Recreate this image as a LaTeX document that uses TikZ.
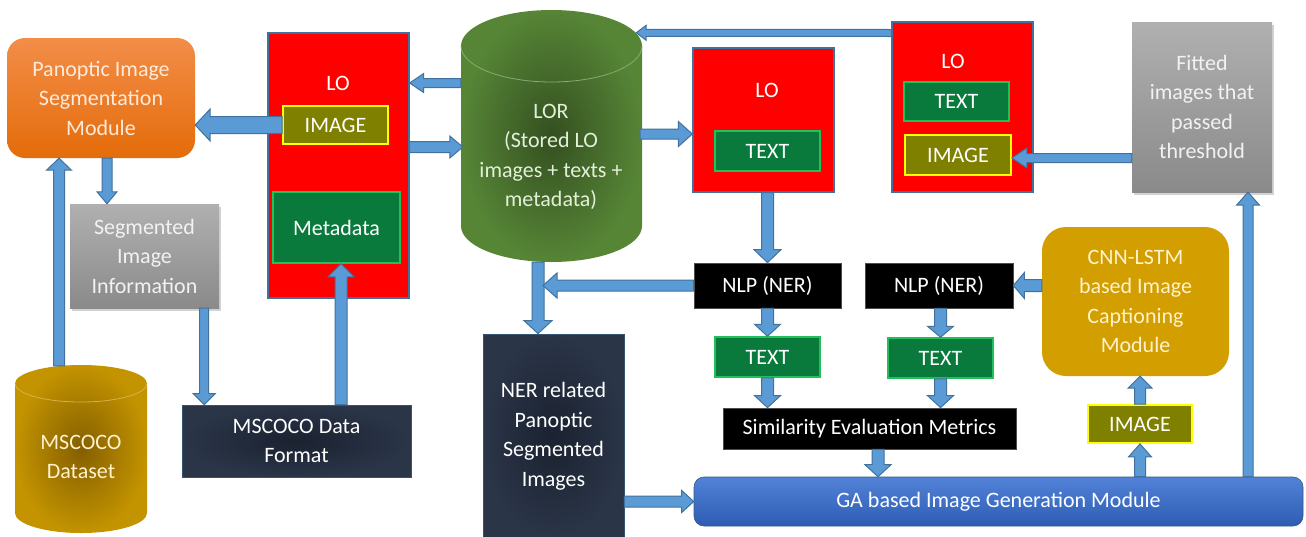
\documentclass[tikz,border=0pt]{standalone}
\usepackage{fontspec}
\setmainfont{Carlito}
\usetikzlibrary{calc,shadows}
\definecolor{arrowfill}{HTML}{5B9BD5}
\definecolor{arrowedge}{HTML}{41719C}
\definecolor{lored}{HTML}{FF0000}
\definecolor{edgeblue}{HTML}{41719C}
\definecolor{olivefill}{HTML}{808000}
\definecolor{yellowedge}{HTML}{FFFF00}
\definecolor{greenfill}{HTML}{0A7A3C}
\definecolor{greenedge}{HTML}{22C05A}
\definecolor{navyin}{HTML}{1B2230}
\definecolor{navyout}{HTML}{2A3548}
\definecolor{pantop}{HTML}{F38D48}
\definecolor{panbot}{HTML}{E46C0A}
\definecolor{graytop}{HTML}{B0B0B0}
\definecolor{graybot}{HTML}{8A8A8A}
\definecolor{cnnfill}{HTML}{D29E00}
\definecolor{gatop}{HTML}{5283D8}
\definecolor{gabot}{HTML}{2E5CB4}
\definecolor{lorin}{HTML}{344F20}
\definecolor{lorout}{HTML}{568536}
\definecolor{dsin}{HTML}{845F00}
\definecolor{dsout}{HTML}{C39300}
\definecolor{creamtext}{HTML}{FDEADA}
\definecolor{lighttext}{HTML}{F2F2F2}
\definecolor{yellowtext}{HTML}{FFF2CC}
\definecolor{greentext}{HTML}{E2F0D9}
\tikzset{
  base/.style={inner sep=0pt, align=center, font=\fontsize{22}{29.5}\selectfont, text=white},
  label/.style={base},
  lobox/.style={base, fill=lored, draw=edgeblue, line width=1.3pt},
  imgbox/.style={base, fill=olivefill, draw=yellowedge, line width=1.8pt},
  txtbox/.style={base, fill=greenfill, draw=greenedge, line width=1.5pt},
  nlpbox/.style={base, fill=black, draw=black!70, line width=0.8pt},
  navybox/.style={base, inner color=navyin, outer color=navyout, draw=edgeblue!50!navyout, line width=0.8pt},
  graybox/.style={base, text=lighttext, top color=graytop, bottom color=graybot,
     drop shadow={opacity=0.35, shadow xshift=2pt, shadow yshift=-3pt}},
  panbox/.style={base, text=creamtext, top color=pantop, bottom color=panbot, rounded corners=18pt},
  cnnbox/.style={base, text=yellowtext, fill=cnnfill, rounded corners=24pt},
  gabox/.style={base, top color=gatop, bottom color=gabot, draw=edgeblue!80!black, line width=0.6pt, rounded corners=10pt},
  cylnode/.style={inner sep=0pt},
  blockarrow/.style={fill=arrowfill, draw=arrowedge, line width=1pt, line join=miter},
  seam/.style={line width=0.8pt},
}
% block arrow: #1 start, #2 tip, #3 half shaft, #4 half head, #5 head length
\newcommand\barrow[5]{%
  \coordinate (bA) at #1; \coordinate (bB) at #2;
  \coordinate (bH) at ($(bB)!#5!(bA)$);
  \draw[blockarrow] ($(bA)!#3!90:(bB)$) -- ($(bH)!#3!-90:(bA)$) -- ($(bH)!#4!-90:(bA)$)
     -- (bB) -- ($(bH)!#4!90:(bA)$) -- ($(bH)!#3!90:(bA)$) -- ($(bA)!#3!-90:(bB)$) -- cycle;}
\begin{document}
\begin{tikzpicture}[x=1pt,y=-1pt]
\useasboundingbox (0,0) rectangle (1306,536);
\fill[white] (0,0) rectangle (1306,536);

% ---------- cylinders ----------
\shade[inner color=lorin, outer color=lorout] (461,46) -- (461,226)
  arc[start angle=180, end angle=0, x radius=90.5, y radius=36] -- (642,46)
  arc[start angle=0, end angle=-180, x radius=90.5, y radius=36] -- cycle;
\draw[seam, draw=lorout!70!white] (461,46) arc[start angle=180, end angle=0, x radius=90.5, y radius=36];
\node[cylnode, minimum width=181pt, minimum height=252pt] (lor) at (551.5,136) {};
\node[base, text=greentext] (lort) at (551,157) {LOR\\(Stored LO\\images + texts +\\metadata)};

\shade[inner color=dsin, outer color=dsout] (15,383.5) -- (15,513)
  arc[start angle=180, end angle=0, x radius=66, y radius=20] -- (147,383.5)
  arc[start angle=0, end angle=-180, x radius=66, y radius=18.5] -- cycle;
\draw[seam, draw=dsout!70!white] (15,383.5) arc[start angle=180, end angle=0, x radius=66, y radius=18.5];
\node[cylnode, minimum width=132pt, minimum height=168pt] (ds) at (81,449) {};
\node[base, text=yellowtext] (dst) at (81,457) {MSCOCO\\Dataset};

% ---------- boxes ----------
\node[panbox, minimum width=188pt, minimum height=120pt] (pan) at (101,98) {Panoptic Image\\Segmentation\\Module};
\node[graybox, minimum width=149pt, minimum height=104pt] (seg) at (144.5,256) {Segmented\\Image\\Information};

\node[lobox, minimum width=141pt, minimum height=265pt] (lo1) at (338.5,165.5) {};
\node[label] (lo1t) at (338,83) {LO};
\node[imgbox, minimum width=105pt, minimum height=38pt] (img1) at (335.5,125) {IMAGE};
\node[txtbox, minimum width=127pt, minimum height=71pt] (meta) at (336.5,227.5) {Metadata};

\node[lobox, minimum width=141pt, minimum height=144pt] (lo2) at (763.5,120) {};
\node[label] (lo2t) at (767,90) {LO};
\node[txtbox, minimum width=105pt, minimum height=40pt] (txtlo2) at (767.5,151) {TEXT};

\node[lobox, minimum width=141pt, minimum height=170pt] (lo3) at (962.5,107) {};
\node[label] (lo3t) at (953,61) {LO};
\node[txtbox, minimum width=105pt, minimum height=39pt] (txtlo3) at (956.5,101.5) {TEXT};
\node[imgbox, minimum width=106pt, minimum height=40pt] (img3) at (958,155) {IMAGE};

\node[graybox, minimum width=140pt, minimum height=170pt] (fit) at (1202,107) {Fitted\\images that\\passed\\threshold};

\node[nlpbox, minimum width=147pt, minimum height=45pt] (nlp1) at (767.5,285.5) {NLP (NER)};
\node[txtbox, minimum width=105pt, minimum height=40pt] (txt1) at (767.5,357) {TEXT};
\node[nlpbox, minimum width=148pt, minimum height=45pt] (nlp2) at (939,285.5) {NLP (NER)};
\node[txtbox, minimum width=105pt, minimum height=40pt] (txt2) at (940.5,358) {TEXT};
\node[nlpbox, minimum width=293pt, minimum height=41pt] (sim) at (869.5,428.5) {Similarity Evaluation Metrics};

\node[cnnbox, minimum width=187pt, minimum height=149pt] (cnn) at (1135.5,301.5) {CNN-LSTM\\based Image\\Captioning\\Module};
\node[imgbox, minimum width=104pt, minimum height=38pt] (img4) at (1140,424) {IMAGE};

\node[gabox, minimum width=609pt, minimum height=49pt] (ga) at (998.5,501.5) {GA based Image Generation Module};

\node[navybox, minimum width=141pt, minimum height=204pt] (ner) at (553.5,436) {NER related\\Panoptic\\Segmented\\Images};
\node[navybox, minimum width=229pt, minimum height=72pt] (fmt) at (296.5,441) {MSCOCO Data\\Format};

% ---------- connectors ----------
\barrow{(img1.west)}{(pan.east |- img1.west)}{8.5pt}{16pt}{15pt}
\barrow{(lor.west |- lo1t)}{(lo1.east |- lo1t)}{4.5pt}{9.5pt}{14pt}
\coordinate (a3) at ($(lo1.east)+(0,-18.5)$);
\barrow{(a3)}{($(lor.west |- a3)+(2,0)$)}{5.5pt}{11pt}{13pt}
\coordinate (a4) at ($(lo2.west)+(0,14)$);
\barrow{($(lor.east |- a4)+(-2,0)$)}{(a4)}{5pt}{12.5pt}{14pt}
\barrow{($(lo3.west)+(0,-74)$)}{($(lor.north east)+(-6,23)$)}{3.5pt}{7.5pt}{10pt}
\barrow{($(fit.west)+(0,51)$)}{($(img3.east)+(0,3)$)}{4.5pt}{10pt}{15pt}
\barrow{(lo2.south -| nlp1.north)}{(nlp1.north)}{6pt}{13.5pt}{13pt}

\coordinate (vx) at (538,300);
\barrow{(vx |- lor.south)}{(vx |- ner.north)}{6pt}{14pt}{13pt}
\barrow{(nlp1.west)}{($(vx |- nlp1.west)+(5,0)$)}{5.5pt}{12.5pt}{14pt}
\barrow{(nlp1.south)}{(txt1.north)}{6pt}{13pt}{12pt}
\barrow{(txt1.south)}{(txt1.south |- sim.north)}{6pt}{13pt}{12pt}
\barrow{(cnn.west |- nlp2.east)}{(nlp2.east)}{6pt}{13pt}{11pt}
\barrow{(nlp2.south -| txt2.north)}{(txt2.north)}{6pt}{13pt}{11pt}
\barrow{(txt2.south)}{(txt2.south |- sim.north)}{6pt}{13pt}{12pt}
\barrow{($(sim.south)+(8.5,0)$)}{($(sim.south |- ga.north)+(8.5,0)$)}{6pt}{13pt}{12pt}
\barrow{(img4.north)}{(img4.north |- cnn.south)}{5.5pt}{12pt}{12pt}
\barrow{(img4.south |- ga.north)}{(img4.south)}{5.5pt}{11.5pt}{13pt}
\coordinate (fx) at ($(fit.south)+(46,0)$);
\barrow{(fx |- ga.north)}{(fx)}{5pt}{11.5pt}{13pt}
\barrow{(ner.east |- ga.west)}{(ga.west)}{5.5pt}{11pt}{12pt}

\coordinate (sx) at ($(seg.south east)+(-15,0)$);
\barrow{(sx)}{(sx |- fmt.north)}{4.5pt}{11pt}{11pt}
\coordinate (mx) at ($(meta.south)+(4.5,0)$);
\barrow{(mx |- fmt.north)}{(mx)}{6pt}{13pt}{13pt}
\coordinate (px) at ($(pan.south)+(6,0)$);
\barrow{(px)}{(px |- seg.north)}{5pt}{10pt}{12pt}
\coordinate (dx) at ($(pan.south)+(-42,0)$);
\barrow{($(dx |- ds.north)+(0,1)$)}{(dx)}{5.5pt}{12.5pt}{12pt}
\end{tikzpicture}
\end{document}
